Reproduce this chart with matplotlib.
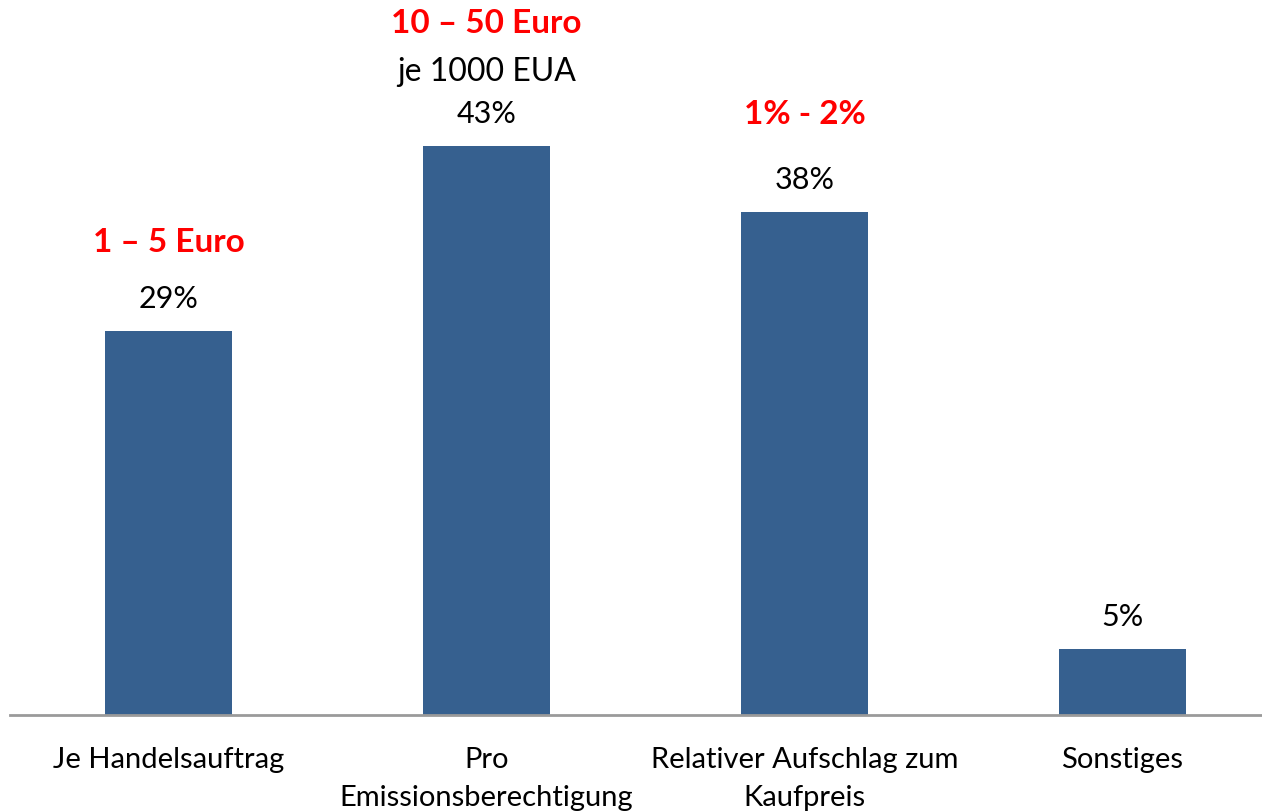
import matplotlib.pyplot as plt

categories = ["Je Handelsauftrag", "Pro\nEmissionsberechtigung",
              "Relativer Aufschlag zum\nKaufpreis", "Sonstiges"]
values = [29, 43, 38, 5]
value_labels = ["29%", "43%", "38%", "5%"]
price_labels = ["1 – 5 Euro", "10 – 50 Euro", "1% - 2%", ""]
unit_labels = ["", "je 1000 EUA", "", ""]

plt.rcParams['font.family'] = ['Lato', 'DejaVu Sans']

fig = plt.figure(figsize=(12.62, 8.11), dpi=100)
ax = fig.add_axes([10 / 1262, 96 / 811, 1271 / 1262, 715 / 811])

x = range(len(categories))
ax.bar(x, values, width=0.4, color='#36608f')
ax.set_xlim(-0.5, 3.5)
ax.set_ylim(0, 54)

# value labels and the red price notes above the bars
price_off = [89, 122, 97, 0]
for i, v in enumerate(values):
    ax.annotate(value_labels[i], xy=(i, v), xytext=(0, 32), textcoords='offset pixels',
                ha='center', va='center', fontsize=22, color='black')
    if price_labels[i]:
        ax.annotate(price_labels[i], xy=(i, v), xytext=(0, price_off[i]), textcoords='offset pixels',
                    ha='center', va='center', fontsize=24, fontweight='bold', color='#ff0000')
    if unit_labels[i]:
        ax.annotate(unit_labels[i], xy=(i, v), xytext=(0, 74), textcoords='offset pixels',
                    ha='center', va='center', fontsize=23, color='black')

ax.set_xticks(list(x))
ax.set_xticklabels(categories, fontsize=21, linespacing=1.56)
ax.tick_params(axis='x', length=0, pad=23)
ax.set_yticks([])
for s in ['top', 'right', 'left']:
    ax.spines[s].set_visible(False)
ax.spines['bottom'].set_color('#9a9a9a')
ax.spines['bottom'].set_linewidth(2)

fig.savefig('out.png', dpi=100)
